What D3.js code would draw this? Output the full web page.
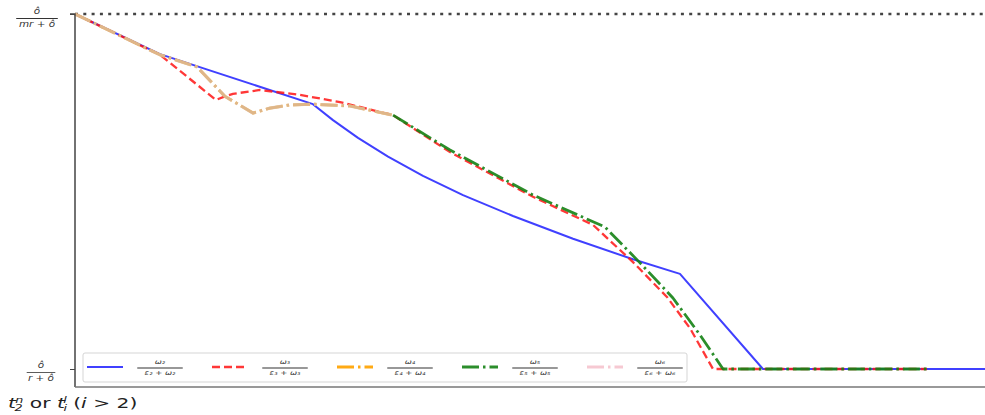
<!DOCTYPE html>
<html><head><meta charset="utf-8">
<script src="https://cdn.jsdelivr.net/npm/d3@7"></script>
<style>body{margin:0;background:#fff}svg{display:block}</style>
</head><body>
<script>
// ---- data ----
const blueX  = [0, 0.934, 2.615, 2.835, 3.110, 3.440, 3.824, 4.264, 4.813, 5.473, 6.132, 6.648, 7.560, 10];
const blueY  = [1, 0.887, 0.746, 0.701, 0.651, 0.598, 0.544, 0.490, 0.431, 0.367, 0.309, 0.268, 0, 0];
const redX   = [0, 0.934, 1.549, 1.648, 1.736, 2.033, 2.473, 2.912, 3.495, 4.121, 5.033, 5.692, 6.132, 6.505, 6.758, 7.011, 9.363];
const redY   = [1, 0.885, 0.758, 0.768, 0.775, 0.786, 0.772, 0.752, 0.715, 0.611, 0.485, 0.406, 0.301, 0.203, 0.115, 0, 0];
const orangeX = [0, 0.934, 1.341, 1.648, 1.956, 2.143, 2.363, 2.615, 3.022, 3.495];
const orangeY = [1, 0.885, 0.851, 0.768, 0.721, 0.735, 0.744, 0.746, 0.741, 0.715];
const greenX = [3.495, 4.121, 5.033, 5.824, 6.209, 6.571, 6.868, 7.121, 9.363];
const greenY = [0.715, 0.617, 0.490, 0.400, 0.299, 0.200, 0.096, 0, 0];
const pinkX = orangeX.slice();
const pinkY = orangeY.slice();
const legendIdx = ["2", "3", "4", "5", "6"];
const yTickVals = [1, 0];
const yTickDen = ["mr + ô", "r + ô"];
const xLabel = "or";

// ---- layout ----
const W = 985, H = 415;
const svg = d3.select("body").append("svg").attr("width", W).attr("height", H);
const x = d3.scaleLinear().domain([0, 10]).range([75, 985]);
const y = d3.scaleLinear().domain([-0.0507, 1]).range([387, 14]);

// top dotted reference line
svg.append("line").attr("x1", x(0)).attr("x2", W).attr("y1", y(1)).attr("y2", y(1))
  .attr("stroke", "#444").attr("stroke-width", 2.5).attr("stroke-dasharray", "3,5.3");

const series = [
  {xs: blueX, ys: blueY, color: "rgba(30,30,255,0.85)", w: 2, dash: null},
  {xs: redX, ys: redY, color: "rgba(255,20,20,0.85)", w: 2.3, dash: "8,4"},
  {xs: orangeX, ys: orangeY, color: "rgb(255,170,20)", w: 2.8, dash: "17,4,2.5,4"},
  {xs: greenX, ys: greenY, color: "rgba(20,130,20,0.9)", w: 2.8, dash: "17,4,2.5,4"},
  {xs: pinkX, ys: pinkY, color: "rgba(215,185,165,0.8)", w: 3.2, dash: "17,4,2.5,4"}
];
const line = d3.line().x(d => x(d[0])).y(d => y(d[1]));
series.forEach(s => {
  const pts = s.xs.map((v, i) => [v, s.ys[i]]);
  svg.append("path").attr("d", line(pts)).attr("fill", "none")
    .attr("stroke", s.color).attr("stroke-width", s.w)
    .attr("stroke-dasharray", s.dash).attr("stroke-linejoin", "round");
});

// axes spines
const yAxis = d3.axisLeft(y).tickValues(yTickVals).tickSize(5).tickFormat("");
const gy = svg.append("g").attr("transform", `translate(${x(0)},0)`).call(yAxis);
gy.select(".domain").attr("stroke", "#444").attr("stroke-width", 1.5).attr("d", `M-5,${y(1)}H0V387`);
gy.selectAll(".tick line").attr("stroke", "#444").attr("stroke-width", 1);
svg.append("line").attr("x1", x(0)).attr("x2", W).attr("y1", 387).attr("y2", 387)
  .attr("stroke", "#777").attr("stroke-width", 1.5);

const font = "'DejaVu Sans', sans-serif";
function frac(g, cx, yb, num, den, fs, barW) {
  const t = g.append("g").attr("transform", `translate(${cx},0) scale(1.3,1)`);
  t.append("text").attr("x", 0).attr("y", yb - 4).attr("text-anchor", "middle")
    .attr("font-family", font).attr("font-style", "italic").attr("font-size", fs).attr("fill", "#333").text(num);
  t.append("line").attr("x1", -barW / 2).attr("x2", barW / 2).attr("y1", yb).attr("y2", yb)
    .attr("stroke", "#333").attr("stroke-width", 0.8);
  t.append("text").attr("x", 0).attr("y", yb + fs + 1).attr("text-anchor", "middle")
    .attr("font-family", font).attr("font-style", "italic").attr("font-size", fs).attr("fill", "#333").text(den);
}
// y tick labels
frac(svg, 37, y(yTickVals[0]) + 4.5, "ô", yTickDen[0], 8, 32);
frac(svg, 41, y(yTickVals[1]) + 3.5, "ô", yTickDen[1], 8, 22);

// x label
const xl = svg.append("text").attr("transform", "translate(8,408) scale(1.5,1)")
  .attr("font-family", font).attr("font-size", 13.5).attr("fill", "#222");
xl.append("tspan").attr("font-style", "italic").text("t");
xl.append("tspan").attr("font-style", "italic").attr("font-size", 8.5).attr("dy", 3).attr("dx", -1).text("2");
xl.append("tspan").attr("font-style", "italic").attr("font-size", 8.5).attr("dy", -8.5).attr("dx", -4.8).text("n");
xl.append("tspan").attr("dy", 5.5).text(" " + xLabel + " ");
xl.append("tspan").attr("font-style", "italic").text("t");
xl.append("tspan").attr("font-style", "italic").attr("font-size", 8.5).attr("dy", 3).attr("dx", -1).text("i");
xl.append("tspan").attr("font-style", "italic").attr("font-size", 8.5).attr("dy", -8.5).attr("dx", -2.5).text("l");
xl.append("tspan").attr("dy", 5.5).text(" (");
xl.append("tspan").attr("font-style", "italic").text("i");
xl.append("tspan").text(" > 2)");

// legend
const lg = svg.append("g");
lg.append("rect").attr("x", 83).attr("y", 353).attr("width", 604).attr("height", 29).attr("rx", 2)
  .attr("fill", "rgba(255,255,255,0.85)").attr("stroke", "#d5d5d5").attr("stroke-width", 1);
const legendColors = ["rgba(30,30,255,0.85)", "rgba(255,20,20,0.85)", "rgb(255,170,20)", "rgba(20,130,20,0.9)", "rgba(245,195,205,0.9)"];
legendIdx.forEach((k, i) => {
  const x0 = 87 + i * 125;
  const s = series[i];
  lg.append("line").attr("x1", x0).attr("x2", x0 + 36).attr("y1", 367).attr("y2", 367)
    .attr("stroke", legendColors[i]).attr("stroke-width", s.w).attr("stroke-dasharray", s.dash);
  const sub = String.fromCharCode(0x2080 + (+k));
  frac(lg, x0 + 73, 368, "ω" + sub, "ε" + sub + " + ω" + sub, 6.5, 35);
});
</script>
</body></html>
